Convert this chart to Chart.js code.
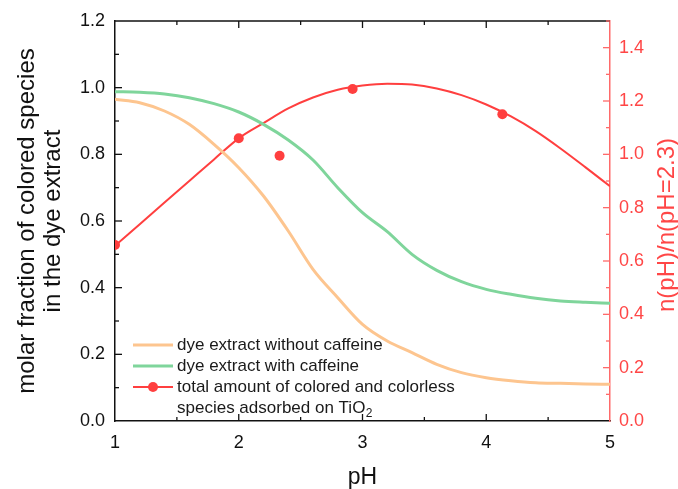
<!DOCTYPE html>
<html>
<head>
<meta charset="utf-8">
<script src="https://cdn.jsdelivr.net/npm/chart.js@4/dist/chart.umd.min.js"></script>
<style>
  html, body { margin: 0; padding: 0; background: #fff; }
  #wrap { width: 678px; height: 489px; }
</style>
</head>
<body>
<div id="wrap"><canvas id="c" width="678" height="489"></canvas></div>
<script>
// ---- data ----
const phGrid = [1.0, 1.2, 1.4, 1.6, 1.8, 2.0, 2.2, 2.4, 2.6, 2.8, 3.0, 3.2, 3.4, 3.6, 3.8, 4.0, 4.2, 4.4, 4.6, 4.8, 5.0];
const withoutCaffeine = [0.965, 0.955, 0.93, 0.89, 0.83, 0.76, 0.675, 0.57, 0.455, 0.37, 0.29, 0.24, 0.205, 0.17, 0.145, 0.13, 0.121, 0.115, 0.113, 0.111, 0.110];
const withCaffeine = [0.988, 0.986, 0.981, 0.970, 0.952, 0.927, 0.890, 0.843, 0.783, 0.70, 0.625, 0.568, 0.5, 0.452, 0.418, 0.395, 0.38, 0.368, 0.36, 0.356, 0.353];
const fitCurve = [0.657, 0.738, 0.819, 0.900, 0.981, 1.060, 1.117, 1.172, 1.213, 1.242, 1.258, 1.265, 1.262, 1.247, 1.222, 1.187, 1.142, 1.087, 1.022, 0.952, 0.880];
const adsorbedPH = [1.0, 2.0, 2.33, 2.92, 4.13];
const adsorbedRatio = [0.66, 1.06, 0.995, 1.245, 1.15];
const xTickLabels = ['1', '2', '3', '4', '5'];
const legendLabels = ['dye extract without caffeine', 'dye extract with caffeine', 'total amount of colored and colorless', 'species adsorbed on TiO'];

const ORANGE = '#FDC58F';
const GREEN = '#7FD59B';
const RED = '#FF3F3F';
const RED_AXIS = '#FF6A6A';
const RED_TEXT = '#FF4646';
const FONT = '"Liberation Sans", Arial, sans-serif';

const toXY = (xs, ys) => xs.map((x, i) => ({ x, y: ys[i] }));

const framePlugin = {
  id: 'frame',
  afterDraw(chart) {
    const { ctx, chartArea: a, scales } = chart;
    const sx = scales.x, sy = scales.y, sy2 = scales.y2;
    ctx.save();
    ctx.lineCap = 'butt';
    // top border
    ctx.strokeStyle = '#111';
    ctx.lineWidth = 1.5;
    ctx.beginPath(); ctx.moveTo(a.left, a.top); ctx.lineTo(a.right, a.top); ctx.stroke();
    // x ticks (inward, bottom and top)
    ctx.lineWidth = 1.3;
    for (let k = 1; k < 8; k++) {
      const v = 1 + k * 0.5;
      const px = sx.getPixelForValue(v);
      const len = k % 2 === 0 ? 7 : 4;
      ctx.beginPath(); ctx.moveTo(px, a.bottom); ctx.lineTo(px, a.bottom - len); ctx.stroke();
      ctx.beginPath(); ctx.moveTo(px, a.top); ctx.lineTo(px, a.top + len); ctx.stroke();
    }
    // left y ticks
    for (let k = 1; k < 12; k++) {
      const py = sy.getPixelForValue(k * 0.1);
      const len = k % 2 === 0 ? 7 : 4;
      ctx.beginPath(); ctx.moveTo(a.left, py); ctx.lineTo(a.left + len, py); ctx.stroke();
    }
    // right y ticks (red)
    ctx.strokeStyle = RED_AXIS;
    for (let k = 1; k <= 15; k++) {
      const py = sy2.getPixelForValue(k * 0.1);
      const len = k % 2 === 0 ? 7 : 4;
      ctx.beginPath(); ctx.moveTo(a.right, py); ctx.lineTo(a.right - len, py); ctx.stroke();
    }
    // right axis title
    ctx.fillStyle = RED_TEXT;
    ctx.font = '24px ' + FONT;
    ctx.textAlign = 'center';
    ctx.textBaseline = 'middle';
    ctx.translate(667, (a.top + a.bottom) / 2 + 4);
    ctx.rotate(-Math.PI / 2);
    ctx.fillText('n(pH)/n(pH=2.3)', 0, 0);
    ctx.restore();

    // legend
    ctx.save();
    ctx.font = '17px ' + FONT;
    ctx.textAlign = 'left';
    ctx.textBaseline = 'middle';
    const lx0 = 133, lx1 = 173, tx = 177;
    const rows = [345, 366, 387, 408];
    const cols = [ORANGE, GREEN, RED];
    for (let i = 0; i < 3; i++) {
      ctx.strokeStyle = cols[i];
      ctx.lineWidth = i < 2 ? 3 : 2;
      ctx.beginPath(); ctx.moveTo(lx0, rows[i]); ctx.lineTo(lx1, rows[i]); ctx.stroke();
    }
    ctx.fillStyle = RED;
    ctx.beginPath(); ctx.arc((lx0 + lx1) / 2, rows[2], 5, 0, Math.PI * 2); ctx.fill();
    ctx.fillStyle = '#1a1a1a';
    for (let i = 0; i < 4; i++) ctx.fillText(legendLabels[i], tx, rows[i]);
    const w = ctx.measureText(legendLabels[3]).width;
    ctx.font = '12px ' + FONT;
    ctx.fillText('2', tx + w + 0.5, rows[3] + 6);
    ctx.restore();
  }
};

new Chart(document.getElementById('c'), {
  type: 'line',
  data: {
    datasets: [
      { label: legendLabels[0], data: toXY(phGrid, withoutCaffeine), yAxisID: 'y', borderColor: ORANGE, borderWidth: 3, pointRadius: 0, cubicInterpolationMode: 'monotone', fill: false },
      { label: legendLabels[1], data: toXY(phGrid, withCaffeine), yAxisID: 'y', borderColor: GREEN, borderWidth: 3, pointRadius: 0, cubicInterpolationMode: 'monotone', fill: false },
      { label: 'fit', data: toXY(phGrid, fitCurve), yAxisID: 'y2', borderColor: RED, borderWidth: 2, pointRadius: 0, cubicInterpolationMode: 'monotone', fill: false },
      { label: legendLabels[2], data: toXY(adsorbedPH, adsorbedRatio), yAxisID: 'y2', showLine: false, pointRadius: 5, pointBackgroundColor: RED, pointBorderColor: RED, borderWidth: 0 }
    ]
  },
  options: {
    responsive: false,
    devicePixelRatio: 1,
    animation: false,
    layout: { padding: { top: 21, right: 0, bottom: 0, left: 0 } },
    plugins: { legend: { display: false }, tooltip: { enabled: false } },
    scales: {
      x: {
        type: 'linear', min: 1, max: 5,
        afterFit(s) { s.height = 68; },
        grid: { display: false, drawTicks: false },
        border: { display: true, color: '#111', width: 1.5 },
        ticks: { stepSize: 1, padding: 11, color: '#111', font: { family: FONT, size: 18 },
          callback: (v) => xTickLabels[Math.round(v) - 1] },
        title: { display: true, text: 'pH', color: '#111', font: { family: FONT, size: 23, lineHeight: 1.0 }, padding: { top: 0, bottom: 0 } }
      },
      y: {
        type: 'linear', position: 'left', min: 0, max: 1.2,
        afterFit(s) { s.width = 115; },
        grid: { display: false, drawTicks: false },
        border: { display: true, color: '#111', width: 1.5 },
        ticks: { stepSize: 0.2, padding: 10, color: '#111', font: { family: FONT, size: 18 },
          callback: (v) => Number(v).toFixed(1) },
        title: { display: true, text: ['molar fraction of colored species', 'in the dye extract'], color: '#111', font: { family: FONT, size: 24, lineHeight: 1.09 }, padding: { top: 14, bottom: 0 } }
      },
      y2: {
        type: 'linear', position: 'right', min: 0, max: 1.5,
        afterFit(s) { s.width = 68; },
        afterBuildTicks(s) { s.ticks = s.ticks.filter(t => t.value <= 1.4001); },
        grid: { display: false, drawTicks: false },
        border: { display: true, color: RED_AXIS, width: 1.5 },
        ticks: { stepSize: 0.2, padding: 9, color: RED_TEXT, font: { family: FONT, size: 18 },
          callback: (v) => Number(v).toFixed(1) }
      }
    }
  },
  plugins: [framePlugin]
});
</script>
</body>
</html>
